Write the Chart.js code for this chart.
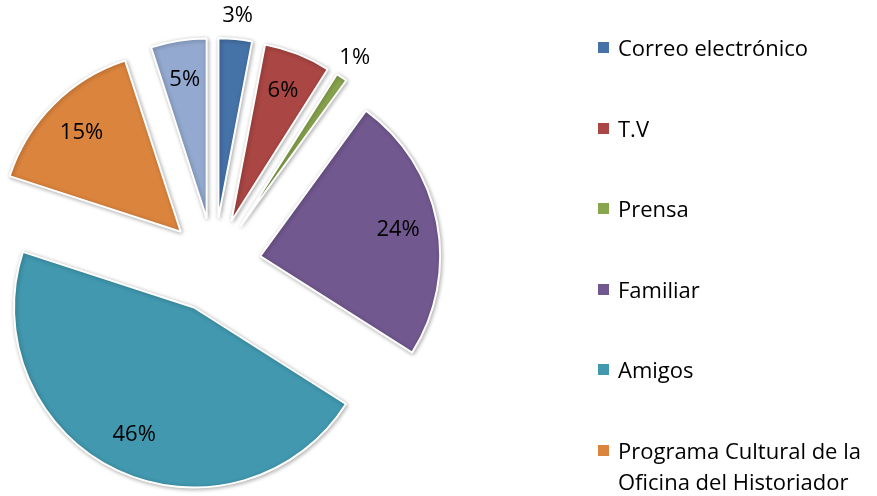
<!DOCTYPE html>
<html lang="es">
<head>
  <meta charset="UTF-8">
  <title>Medios de información</title>
  <script src="https://cdn.jsdelivr.net/npm/chart.js"></script>
  <style>
    html, body {
      margin: 0;
      padding: 0;
      background: #fff;
      overflow: hidden;
    }

    #wrap {
      position: relative;
      width: 877px;
      height: 496px;
    }

    #legend {
      position: absolute;
      left: 598px;
      top: 32px;
      font-family: 'Open Sans', Lato, sans-serif;
      font-size: 22px;
      color: #000;
    }

    .legend-item {
      display: flex;
      align-items: flex-start;
      line-height: 31px;
      margin-bottom: 49.5px;
      white-space: nowrap;
    }

    .legend-box {
      width: 11px;
      height: 11px;
      margin-top: 10px;
      margin-right: 9px;
      flex: none;
    }
  </style>
</head>
<body>
  <div id="wrap">
    <canvas id="pie" width="877" height="496"></canvas>
    <div id="legend"></div>
  </div>

  <script>
    const categories = [
      "Correo electrónico",
      "T.V",
      "Prensa",
      "Familiar",
      "Amigos",
      ["Programa Cultural de la", "Oficina del Historiador"],
      "Otros"
    ];
    const values = [3, 6, 1, 24, 46, 15, 5];
    const colors = ["#4572A7", "#AA4643", "#89A54E", "#71588F", "#4198AF", "#DB843D", "#93A9CF"];

    const EXPLODE = 47; // px each slice is pulled out

    // draw the library's arcs ourselves, shifted outward, so every slice keeps the same radius
    const explode = {
      id: 'explode',
      beforeDatasetDraw(chart, args) {
        const ctx = chart.ctx;
        args.meta.data.forEach(arc => {
          const mid = (arc.startAngle + arc.endAngle) / 2;
          ctx.save();
          ctx.shadowColor = 'rgba(0,0,0,0.3)';
          ctx.shadowBlur = 4;
          ctx.shadowOffsetX = 1;
          ctx.shadowOffsetY = 1;
          ctx.translate(Math.cos(mid) * EXPLODE, Math.sin(mid) * EXPLODE);
          arc.draw(ctx);
          ctx.restore();
        });
        return false;
      }
    };

    // percent labels, small slices go outside
    const pctLabels = {
      id: 'pctLabels',
      afterDatasetsDraw(chart) {
        const ctx = chart.ctx;
        const meta = chart.getDatasetMeta(0);
        const data = chart.data.datasets[0].data;
        const total = data.reduce((a, b) => a + b, 0);
        ctx.save();
        ctx.font = '22px "Open Sans", Lato, sans-serif';
        ctx.fillStyle = '#000';
        ctx.textAlign = 'center';
        ctx.textBaseline = 'middle';
        meta.data.forEach((arc, i) => {
          const mid = (arc.startAngle + arc.endAngle) / 2;
          const pct = Math.round(data[i] / total * 100);
          const f = pct < 5 ? 1.13 : 0.78;
          const r = EXPLODE + arc.outerRadius * f;
          ctx.fillText(pct + '%', arc.x + Math.cos(mid) * r, arc.y + Math.sin(mid) * r);
        });
        ctx.restore();
      }
    };

    new Chart(document.getElementById('pie'), {
      type: 'pie',
      data: {
        labels: categories,
        datasets: [{
          data: values,
          backgroundColor: colors,
          borderColor: '#fff',
          borderWidth: 2,
          hoverOffset: 0,
          radius: 180,
          clip: false
        }]
      },
      options: {
        responsive: false,
        animation: false,
        events: [],
        layout: {
          padding: { left: 0, right: 449, top: 34, bottom: 0 }
        },
        plugins: {
          legend: { display: false },
          tooltip: { enabled: false }
        }
      },
      plugins: [explode, pctLabels]
    });

    const legend = document.getElementById('legend');
    categories.forEach((c, i) => {
      const item = document.createElement('div');
      item.className = 'legend-item';
      const box = document.createElement('span');
      box.className = 'legend-box';
      box.style.backgroundColor = colors[i];
      const txt = document.createElement('span');
      txt.innerHTML = Array.isArray(c) ? c.join('<br>') : c;
      item.appendChild(box);
      item.appendChild(txt);
      legend.appendChild(item);
    });
  </script>
</body>
</html>
